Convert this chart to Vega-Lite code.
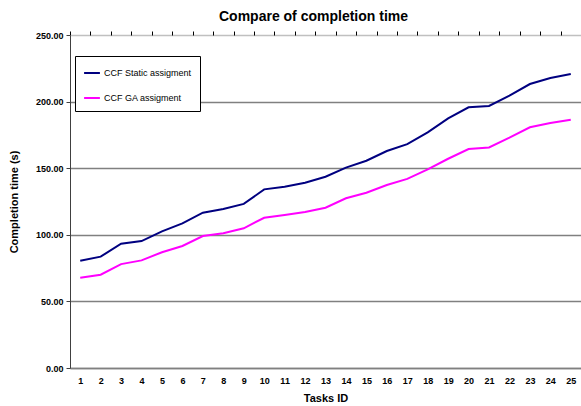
{
  "$schema": "https://vega.github.io/schema/vega-lite/v6.json",
  "width": 511,
  "height": 333,
  "autosize": {"type": "none"},
  "padding": {"left": 70, "top": 35, "right": 0, "bottom": 38},
  "background": "white",
  "title": {"text": "Compare of completion time", "font": "Liberation Sans", "fontSize": 14, "fontWeight": "bold", "color": "black", "anchor": "middle", "dx": -12, "offset": 7},
  "config": {"view": {"stroke": null}, "font": "Liberation Sans"},
  "data": {"values": [
    {"task": 1, "series": "CCF Static assigment", "time": 80.5},
    {"task": 2, "series": "CCF Static assigment", "time": 83.6},
    {"task": 3, "series": "CCF Static assigment", "time": 93.3},
    {"task": 4, "series": "CCF Static assigment", "time": 95.3},
    {"task": 5, "series": "CCF Static assigment", "time": 102.6},
    {"task": 6, "series": "CCF Static assigment", "time": 108.6},
    {"task": 7, "series": "CCF Static assigment", "time": 116.6},
    {"task": 8, "series": "CCF Static assigment", "time": 119.4},
    {"task": 9, "series": "CCF Static assigment", "time": 123.2},
    {"task": 10, "series": "CCF Static assigment", "time": 134.1},
    {"task": 11, "series": "CCF Static assigment", "time": 136.1},
    {"task": 12, "series": "CCF Static assigment", "time": 139.1},
    {"task": 13, "series": "CCF Static assigment", "time": 143.6},
    {"task": 14, "series": "CCF Static assigment", "time": 150.4},
    {"task": 15, "series": "CCF Static assigment", "time": 155.6},
    {"task": 16, "series": "CCF Static assigment", "time": 162.9},
    {"task": 17, "series": "CCF Static assigment", "time": 168.1},
    {"task": 18, "series": "CCF Static assigment", "time": 176.9},
    {"task": 19, "series": "CCF Static assigment", "time": 187.4},
    {"task": 20, "series": "CCF Static assigment", "time": 195.7},
    {"task": 21, "series": "CCF Static assigment", "time": 196.7},
    {"task": 22, "series": "CCF Static assigment", "time": 204.4},
    {"task": 23, "series": "CCF Static assigment", "time": 213.2},
    {"task": 24, "series": "CCF Static assigment", "time": 217.7},
    {"task": 25, "series": "CCF Static assigment", "time": 220.7},
    {"task": 1, "series": "CCF GA assigment", "time": 67.8},
    {"task": 2, "series": "CCF GA assigment", "time": 70.0},
    {"task": 3, "series": "CCF GA assigment", "time": 78.0},
    {"task": 4, "series": "CCF GA assigment", "time": 80.8},
    {"task": 5, "series": "CCF GA assigment", "time": 86.9},
    {"task": 6, "series": "CCF GA assigment", "time": 91.6},
    {"task": 7, "series": "CCF GA assigment", "time": 99.1},
    {"task": 8, "series": "CCF GA assigment", "time": 101.1},
    {"task": 9, "series": "CCF GA assigment", "time": 104.9},
    {"task": 10, "series": "CCF GA assigment", "time": 112.8},
    {"task": 11, "series": "CCF GA assigment", "time": 114.9},
    {"task": 12, "series": "CCF GA assigment", "time": 117.1},
    {"task": 13, "series": "CCF GA assigment", "time": 120.3},
    {"task": 14, "series": "CCF GA assigment", "time": 127.4},
    {"task": 15, "series": "CCF GA assigment", "time": 131.6},
    {"task": 16, "series": "CCF GA assigment", "time": 137.4},
    {"task": 17, "series": "CCF GA assigment", "time": 142.0},
    {"task": 18, "series": "CCF GA assigment", "time": 149.1},
    {"task": 19, "series": "CCF GA assigment", "time": 157.1},
    {"task": 20, "series": "CCF GA assigment", "time": 164.4},
    {"task": 21, "series": "CCF GA assigment", "time": 165.6},
    {"task": 22, "series": "CCF GA assigment", "time": 172.9},
    {"task": 23, "series": "CCF GA assigment", "time": 180.7},
    {"task": 24, "series": "CCF GA assigment", "time": 183.9},
    {"task": 25, "series": "CCF GA assigment", "time": 186.4}
  ]},
  "layer": [
    {
      "mark": {"type": "line", "strokeWidth": 2},
      "encoding": {
        "x": {
          "field": "task", "type": "quantitative",
          "scale": {"domain": [0.5, 25.5], "nice": false, "zero": false},
          "axis": {
            "values": [1,2,3,4,5,6,7,8,9,10,11,12,13,14,15,16,17,18,19,20,21,22,23,24,25],
            "ticks": false, "grid": false, "domain": true, "domainColor": "#808080", "domainWidth": 1.5,
            "labelFont": "Liberation Sans", "labelFontSize": 9, "labelFontWeight": "bold", "labelColor": "black",
            "labelPadding": 8, "labelFlush": false, "labelOverlap": false,
            "title": "Tasks ID", "titleFont": "Liberation Sans", "titleFontSize": 11, "titleFontWeight": "bold", "titleColor": "black", "titlePadding": 7
          }
        },
        "y": {
          "field": "time", "type": "quantitative",
          "scale": {"domain": [0, 250], "nice": false},
          "axis": {
            "values": [0, 50, 100, 150, 200, 250], "format": ".2f",
            "grid": true, "gridColor": {"condition": {"test": "datum.value == 250", "value": "#c0c0c0"}, "value": "#808080"}, "gridWidth": 1.5,
            "domain": true, "domainColor": "#404040", "domainWidth": 1,
            "ticks": true, "tickSize": 4, "tickColor": "#404040",
            "labelFont": "Liberation Sans", "labelFontSize": 9, "labelFontWeight": "bold", "labelColor": "black", "labelPadding": 3,
            "title": "Completion time (s)", "titleFont": "Liberation Sans", "titleFontSize": 11, "titleFontWeight": "bold", "titleColor": "black", "titlePadding": 16
          }
        },
        "color": {
          "field": "series", "type": "nominal",
          "scale": {"domain": ["CCF Static assigment", "CCF GA assigment"], "range": ["#000080", "#ff00ff"]},
          "legend": {
            "title": null, "orient": "none", "legendX": 5, "legendY": 21,
            "strokeColor": "black", "fillColor": "white", "padding": 8,
            "symbolType": "stroke", "symbolSize": 250, "symbolStrokeWidth": 2,
            "labelFont": "Liberation Sans", "labelFontSize": 9, "labelColor": "black",
            "rowPadding": 11, "labelOffset": 3
          }
        }
      }
    },
    {
      "mark": {"type": "rule", "opacity": 0},
      "encoding": {
        "x": {
          "datum": 1, "type": "quantitative",
          "axis": {
            "values": [0.5,1.5,2.5,3.5,4.5,5.5,6.5,7.5,8.5,9.5,10.5,11.5,12.5,13.5,14.5,15.5,16.5,17.5,18.5,19.5,20.5,21.5,22.5,23.5,24.5,25.5],
            "labels": false, "grid": false, "domain": false, "ticks": true, "tickSize": 4, "tickColor": "black", "title": null
          }
        }
      }
    }
  ],
  "resolve": {"axis": {"x": "independent"}}
}
